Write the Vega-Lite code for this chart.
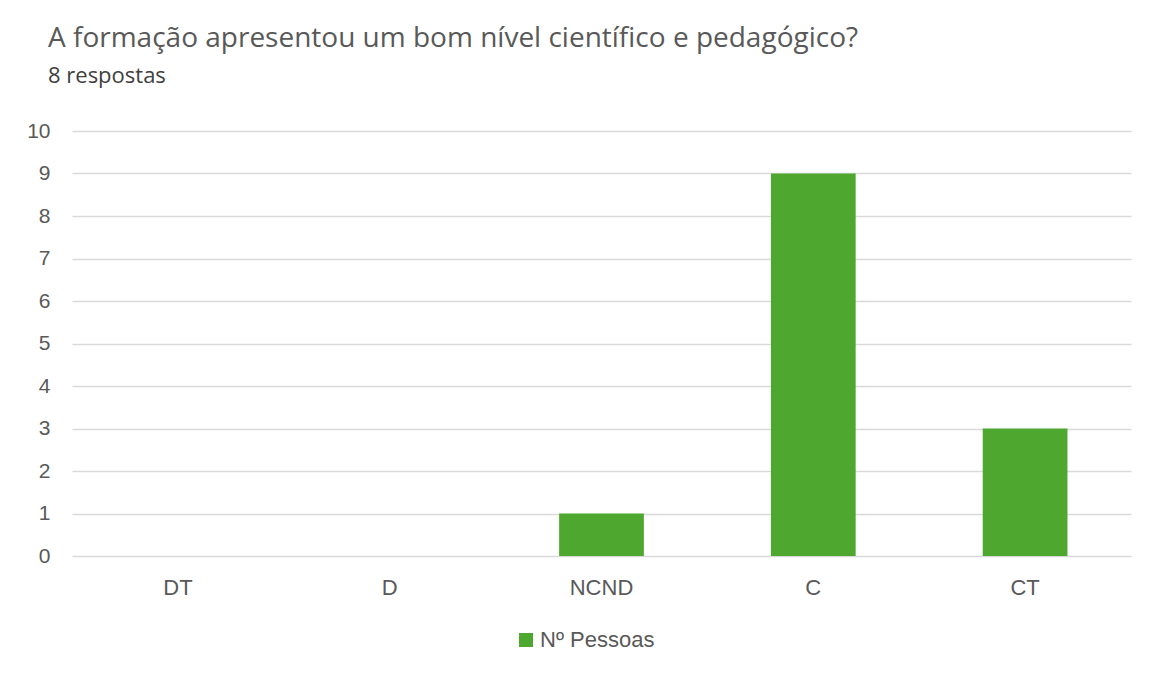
{
  "$schema": "https://vega.github.io/schema/vega-lite/v6.json",
  "autosize": {"type": "none"},
  "width": 1059,
  "height": 425,
  "padding": {"left": 72, "top": 131, "right": 19, "bottom": 117},
  "background": "white",
  "title": {
    "text": "A formação apresentou um bom nível científico e pedagógico?",
    "subtitle": "8 respostas",
    "anchor": "start",
    "frame": "group",
    "dx": -24,
    "offset": 33,
    "font": "Open Sans",
    "fontSize": 28,
    "fontWeight": "normal",
    "color": "#595959",
    "subtitleFont": "Open Sans",
    "subtitleFontSize": 22,
    "subtitleColor": "#404040",
    "subtitlePadding": 13
  },
  "data": {
    "values": [
      {"categoria": "DT", "valor": 0, "serie": "Nº Pessoas"},
      {"categoria": "D", "valor": 0, "serie": "Nº Pessoas"},
      {"categoria": "NCND", "valor": 1, "serie": "Nº Pessoas"},
      {"categoria": "C", "valor": 9, "serie": "Nº Pessoas"},
      {"categoria": "CT", "valor": 3, "serie": "Nº Pessoas"}
    ]
  },
  "mark": {"type": "bar"},
  "encoding": {
    "x": {
      "field": "categoria",
      "type": "nominal",
      "sort": ["DT", "D", "NCND", "C", "CT"],
      "scale": {"paddingInner": 0.6, "paddingOuter": 0.3},
      "axis": {
        "title": null,
        "labelAngle": 0,
        "domain": false,
        "ticks": false,
        "labelPadding": 21,
        "labelFont": "Liberation Sans",
        "labelFontSize": 22,
        "labelColor": "#595959"
      }
    },
    "y": {
      "field": "valor",
      "type": "quantitative",
      "scale": {"domain": [0, 10], "nice": false},
      "axis": {
        "title": null,
        "values": [0, 1, 2, 3, 4, 5, 6, 7, 8, 9, 10],
        "domain": false,
        "ticks": false,
        "grid": true,
        "gridColor": "#d9d9d9",
        "gridWidth": 1.5,
        "labelPadding": 22,
        "labelFont": "Liberation Sans",
        "labelFontSize": 21,
        "labelColor": "#595959"
      }
    },
    "color": {
      "field": "serie",
      "type": "nominal",
      "scale": {"range": ["#4ea72e"]},
      "legend": {
        "title": null,
        "orient": "none",
        "legendX": 443,
        "legendY": 498,
        "symbolType": "square",
        "symbolSize": 196,
        "symbolStrokeWidth": 0,
        "labelFont": "Liberation Sans",
        "labelFontSize": 22,
        "labelColor": "#595959",
        "labelOffset": 3
      }
    }
  },
  "config": {
    "view": {"stroke": null}
  }
}
